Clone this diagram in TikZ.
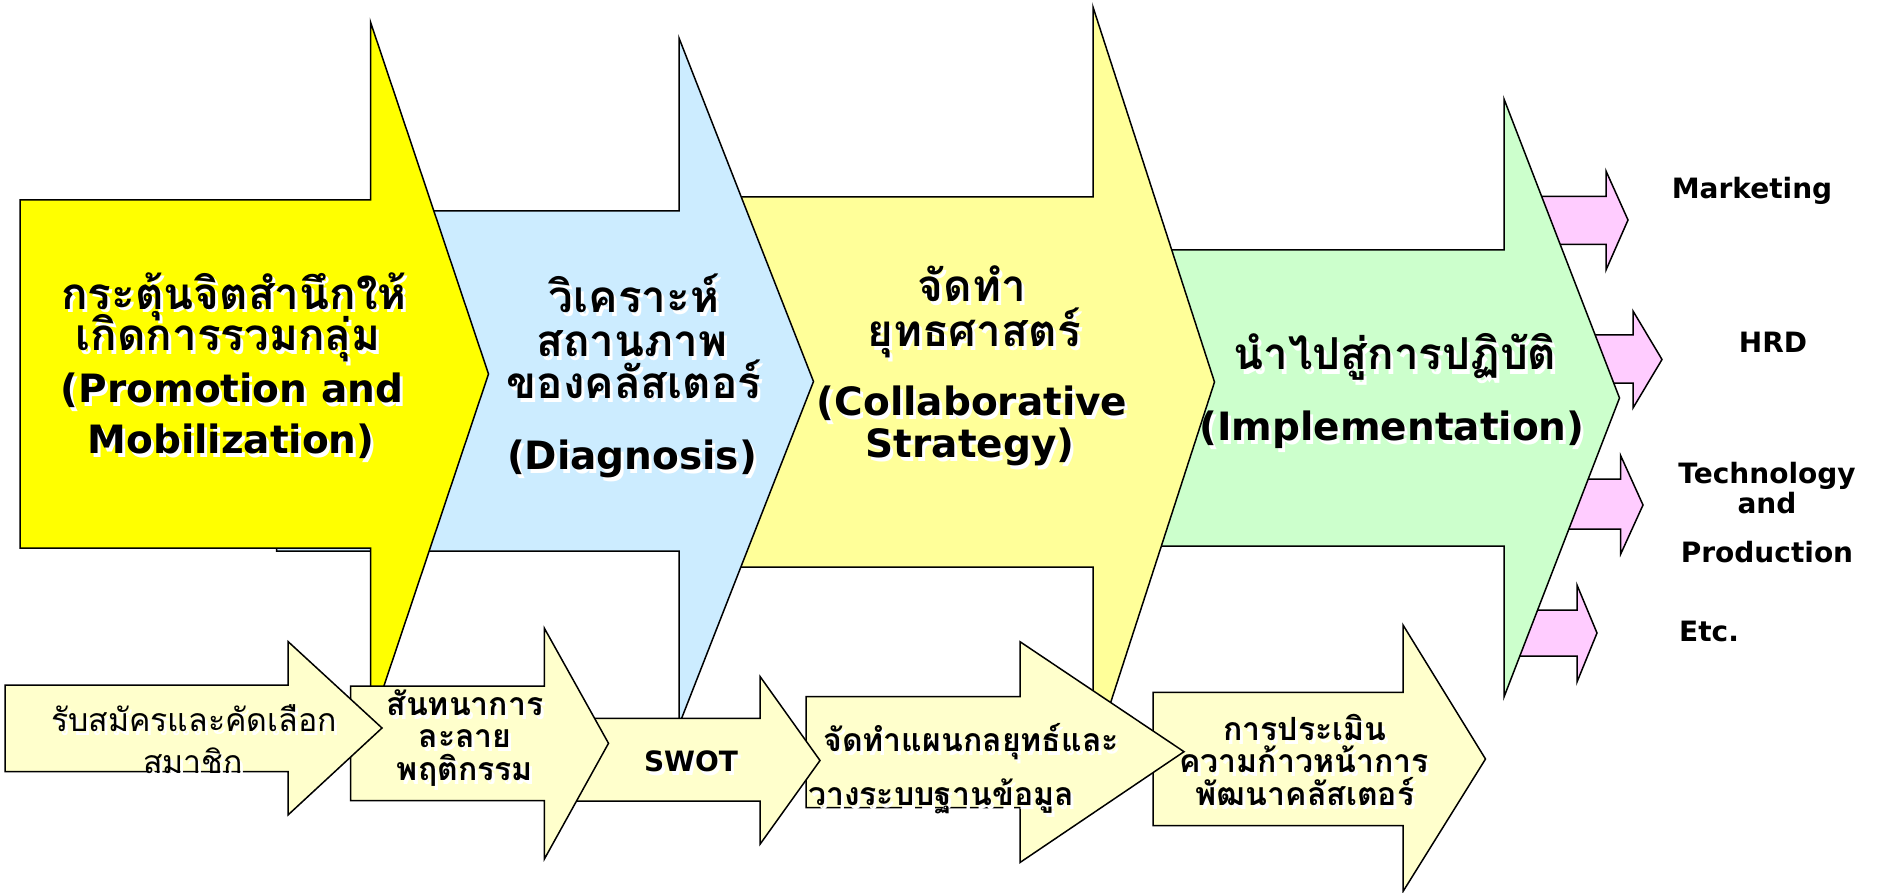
\documentclass[tikz,border=0pt]{standalone}
\usepackage{fontspec}
\setmainfont{DejaVu Sans}
\newfontfamily\thaifont[Script=Thai]{Loma}
\usetikzlibrary{calc}
\definecolor{cY}{HTML}{FFFF00}
\definecolor{cB}{HTML}{CCECFF}
\definecolor{cLY}{HTML}{FFFF99}
\definecolor{cG}{HTML}{CCFFCC}
\definecolor{cP}{HTML}{FFCCFF}
\definecolor{cS}{HTML}{FFFFCC}
% fill, x0, ytop, ybot, xhead, headtop, headbot, xtip, ytip
\newcommand\rarrow[9]{\path[arr,fill=#1] (#2,#3) -- (#5,#3) -- (#5,#6) -- (#8,#9) -- (#5,#7) -- (#5,#4) -- (#2,#4) -- cycle;}
% name, position, style, text
\newcommand\stxt[4]{\node[#3,text=white] at ($#2+(3,4)$) {#4};\node[#3] (#1) at #2 {#4};}
\tikzset{
  arr/.style={draw=black,line width=1.5pt,line join=miter},
  txt/.style={anchor=base,inner sep=0pt,text=black},
  bigla/.style={txt,font=\bfseries\fontsize{39}{39}\selectfont},
  bigth/.style={txt,font=\thaifont\bfseries\fontsize{44}{44}\selectfont},
  smla/.style={txt,font=\bfseries\fontsize{28}{28}\selectfont},
  smth/.style={txt,font=\thaifont\bfseries\fontsize{32}{32}\selectfont},
  smthr/.style={txt,font=\thaifont\fontsize{32}{32}\selectfont},
}
\begin{document}
\begin{tikzpicture}[x=1pt,y=-1pt]
\useasboundingbox (0,0) rectangle (1877,893);
% pink output arrows
\rarrow{cP}{1510}{196.5}{244.5}{1606}{171}{270}{1628}{220}
\rarrow{cP}{1520}{335}{383}{1633}{311}{408}{1662}{359.5}
\rarrow{cP}{1520}{479}{529}{1620.7}{455.7}{554}{1643}{505}
\rarrow{cP}{1510}{610}{656}{1577}{585}{682}{1597}{633}
% big arrows, right to left
\rarrow{cG}{1050}{250}{546}{1504}{99}{697}{1619.5}{398}
\rarrow{cLY}{700}{197}{567}{1093}{7}{757}{1214.5}{382}
\rarrow{cB}{276.5}{211}{551}{679}{38}{725}{813.5}{381.5}
\rarrow{cY}{20}{200}{548}{370.5}{22}{726}{488.5}{374}
% small arrows, right to left
\rarrow{cS}{1153}{692.3}{825.5}{1403}{625}{891.5}{1485.5}{759}
\rarrow{cS}{806}{696.7}{807.5}{1020}{641.7}{862.5}{1184}{751.7}
\rarrow{cS}{550}{718.3}{801}{760.2}{676.7}{844}{820}{760.5}
\rarrow{cS}{350.7}{686}{800.7}{544.4}{628.3}{859}{608.5}{743.3}
\rarrow{cS}{5}{685}{771.5}{288}{641.5}{815}{382}{728}
% texts of big arrows
\stxt{y1}{(234,309)}{bigth}{กระตุ้นจิตสำนึกให้}
\stxt{y2}{(228,350)}{bigth}{เกิดการรวมกลุ่ม}
\stxt{y3}{(232,402)}{bigla}{(Promotion and}
\stxt{y4}{(231,453.5)}{bigla}{Mobilization)}
\stxt{b1}{(634,313)}{bigth}{วิเคราะห์}
\stxt{b2}{(632,356)}{bigth}{สถานภาพ}
\stxt{b3}{(634,398)}{bigth}{ของคลัสเตอร์}
\stxt{b4}{(632,469)}{bigla}{(Diagnosis)}
\stxt{c1}{(972,302)}{bigth}{จัดทำ}
\stxt{c2}{(974,346)}{bigth}{ยุทธศาสตร์}
\stxt{c3}{(972,415)}{bigla}{(Collaborative}
\stxt{c4}{(970,457)}{bigla}{Strategy)}
\stxt{g1}{(1395,370)}{bigth}{นำไปสู่การปฏิบัติ}
\stxt{g2}{(1392,440)}{bigla}{(Implementation)}
% right labels
\node[smla] (mk) at (1752,199) {Marketing};
\node[smla] (hrd) at (1773,352.7) {HRD};
\node[smla] (tc1) at (1767,483) {Technology};
\node[smla] (tc2) at (1767,513) {and};
\node[smla] (tc3) at (1767,562) {Production};
\node[smla] (etc) at (1709,641.5) {Etc.};
% texts of small arrows
\stxt{a1}{(194,731.7)}{smthr}{รับสมัครและคัดเลือก}
\stxt{a2}{(193,773)}{smthr}{สมาชิก}
\stxt{s1}{(465,715)}{smth}{สันทนาการ}
\stxt{s2}{(465,747.7)}{smth}{ละลาย}
\stxt{s3}{(465,780)}{smth}{พฤติกรรม}
\stxt{w1}{(691,771.7)}{smla}{SWOT}
\stxt{d1}{(971,751.7)}{smth}{จัดทำแผนกลยุทธ์และ}
\stxt{d2}{(941,805)}{smth}{วางระบบฐานข้อมูล}
\stxt{e1}{(1305,740)}{smth}{การประเมิน}
\stxt{e2}{(1304,772.7)}{smth}{ความก้าวหน้าการ}
\stxt{e3}{(1305,805)}{smth}{พัฒนาคลัสเตอร์}
\end{tikzpicture}
\end{document}
